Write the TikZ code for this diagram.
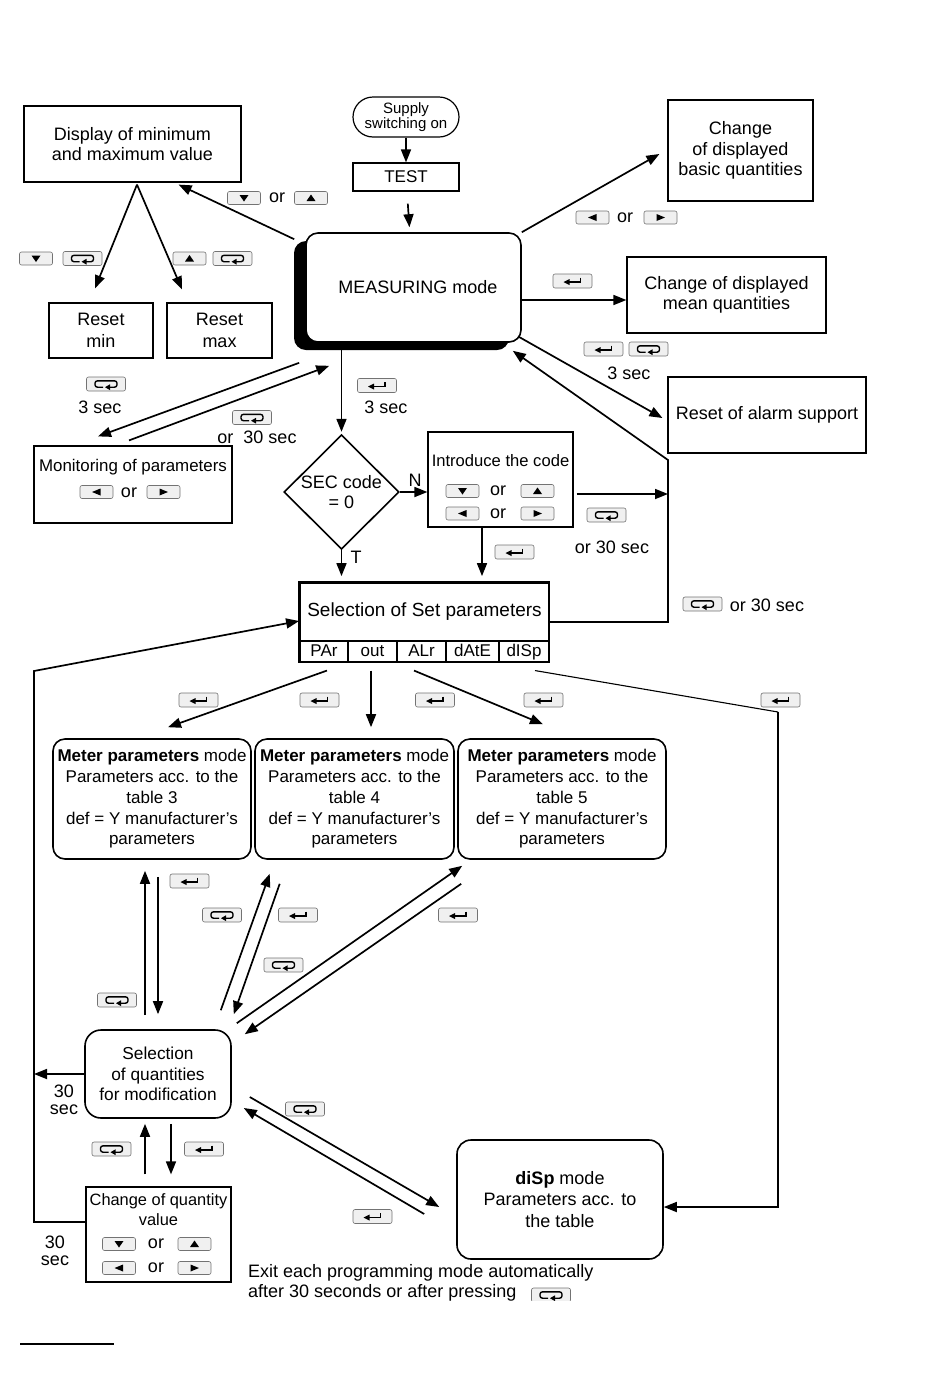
\documentclass[tikz,border=0pt]{standalone}
\usepackage{fontspec}
\setmainfont{Liberation Sans}
\usetikzlibrary{arrows.meta,shapes.geometric,shadows,calc}

\tikzset{
  keybox/.style={draw=black!55, line width=0.6pt, fill=black!6, rounded corners=2pt},
  pics/kdn/.style={code={
    \draw[keybox] (-16.5,-6.5) rectangle (16.5,6.5);
    \fill (-4.5,-3) -- (4.5,-3) -- (0,3.5) -- cycle;}},
  pics/kup/.style={code={
    \draw[keybox] (-16.5,-6.5) rectangle (16.5,6.5);
    \fill (-4.5,3) -- (4.5,3) -- (0,-3.5) -- cycle;}},
  pics/klt/.style={code={
    \draw[keybox] (-16.5,-6.5) rectangle (16.5,6.5);
    \fill (4,-3.5) -- (4,3.5) -- (-4.5,0) -- cycle;}},
  pics/krt/.style={code={
    \draw[keybox] (-16.5,-6.5) rectangle (16.5,6.5);
    \fill (-4,-3.5) -- (-4,3.5) -- (4.5,0) -- cycle;}},
  pics/kent/.style={code={
    \draw[keybox] (-19.5,-7) rectangle (19.5,7);
    \draw[line width=1.4pt] (8,-3.5) -- (8,1) -- (-4,1);
    \fill (-9,1) -- (-3,-2) -- (-3,4) -- cycle;}},
  pics/kesc/.style={code={
    \draw[keybox] (-19.5,-7) rectangle (19.5,7);
    \draw[line width=1.4pt, rounded corners=2.5pt] (-3,3.2) -- (-11,3.2) -- (-11,-3.2)
      -- (11,-3.2) -- (11,3.2) -- (3,3.2);
    \fill (-1,3.2) -- (4,0.3) -- (4,6.1) -- cycle;}}
}

\begin{document}
\begin{tikzpicture}[x=1pt, y=-1pt,
    every node/.style={inner sep=0pt, align=center, font=\fontsize{18}{20.5}\selectfont},
    box/.style={draw, line width=1.2pt},
    rbox/.style={draw, line width=1.6pt, rounded corners=12pt},
    meter/.style={rbox, minimum width=198, minimum height=120, font=\fontsize{17}{20.75}\selectfont},
    arr/.style={line width=1.7pt, -{Triangle[length=13pt,width=10pt]}},
    cell/.style={draw, line width=1.1pt, minimum height=21, text height=12.5, text depth=3.5,
      font=\fontsize{17}{18}\selectfont}]

\useasboundingbox (0,0) rectangle (950,1382);

% top row
\node[box, minimum width=217, minimum height=76] (dispmm) at (132.5,144) {Display of minimum\\and maximum value};
\node[box, rounded corners=20pt, minimum width=106, minimum height=40,
  font=\fontsize{15}{15.5}\selectfont] (supply) at (406,117) {Supply\\switching on};
\node[box, minimum width=106, minimum height=28, font=\fontsize{17}{20}\selectfont] (test) at (406,177) {TEST};
\node[rbox, fill=white, minimum width=215, minimum height=109,
  drop shadow={shadow xshift=-12pt, shadow yshift=-8pt, fill=black, opacity=1}] (meas) at (413.5,287.5) {\hspace{9pt}MEASURING mode};
\node[box, minimum width=145, minimum height=101] (chbasic) at (740.5,150.5) {Change\\of displayed\\basic quantities};
\node[box, minimum width=199, minimum height=76] (chmean) at (726.5,295) {Change of displayed\\mean quantities};
\node[box, minimum width=198, minimum height=76] (resalarm) at (767,415) {Reset of alarm support};
\node[box, minimum width=104, minimum height=55, font=\fontsize{18}{22}\selectfont] (resmin) at (101,330.5) {Reset\\min};
\node[box, minimum width=105, minimum height=55, font=\fontsize{18}{22}\selectfont] (resmax) at (219.5,330.5) {Reset\\max};

% monitoring
\node[box, minimum width=198, minimum height=77] (monit) at (133,484.5) {};
\node[font=\fontsize{16.9}{18}\selectfont] (monit-t) at (133,467) {Monitoring of parameters};
\pic at (96.5,492) {klt};
\node (monit-or) at (129,493) {or};
\pic at (163.5,492) {krt};

% security code
\node[draw, diamond, aspect=1, line width=1.6pt, minimum width=115, minimum height=114] (sec) at (341.5,492) {SEC code\\= 0};
\node[box, minimum width=145, minimum height=95] (intro) at (500.5,479.5) {};
\node[font=\fontsize{16.6}{18}\selectfont] (intro-t) at (500.5,461) {Introduce the code};
\pic at (462.5,491) {kdn};
\node (intro-or1) at (498,491) {or};
\pic at (537.5,491) {kup};
\pic at (462.5,513.5) {klt};
\node (intro-or2) at (498,514) {or};
\pic at (537.5,513.5) {krt};

% set parameters
\node[box, line width=1.8pt, minimum width=249, minimum height=58, font=\fontsize{19}{20}\selectfont] (sel) at (424.5,612) {Selection of Set parameters};
\foreach \nm/\lo/\hi [evaluate=\lo as \cx using (\lo+\hi)/2, evaluate=\hi as \cw using \hi-\lo]
    in {PAr/300/348, out/348/397, ALr/397/446, dAtE/446/499, dISp/499/549}
  \node[cell, minimum width=\cw] (cell-\nm) at (\cx,651.5) {\nm};
\draw[line width=1.8pt] (sel.north west) rectangle (cell-dISp.south east);

% meter modes
\node[meter] (m1) at (152,799) {\textbf{Meter parameters} mode\\Parameters acc. to the\\table 3\\def = Y manufacturer’s\\parameters};
\node[meter, minimum width=199] (m2) at (354.5,799) {\textbf{Meter parameters} mode\\Parameters acc. to the\\table 4\\def = Y manufacturer’s\\parameters};
\node[meter, minimum width=208] (m3) at (562,799) {\textbf{Meter parameters} mode\\Parameters acc. to the\\table 5\\def = Y manufacturer’s\\parameters};

% lower part
\node[rbox, rounded corners=16pt, minimum width=146, minimum height=88,
  font=\fontsize{17.3}{20.5}\selectfont] (selq) at (158,1074) {Selection\\of quantities\\for modification};
\node[box, minimum width=145, minimum height=95] (chq) at (158.5,1234.5) {};
\node[font=\fontsize{16.4}{20}\selectfont] (chq-t) at (158.5,1210) {Change of quantity\\value};
\pic at (119,1244) {kdn};
\node (chq-or1) at (156,1244) {or};
\pic at (194.5,1244) {kup};
\pic at (119,1268) {klt};
\node (chq-or2) at (156,1268) {or};
\pic at (194.5,1268) {krt};
\node[rbox, rounded corners=14pt, minimum width=206, minimum height=119,
  font=\fontsize{18}{21.5}\selectfont] (disp) at (560,1199.5) {\textbf{diSp} mode\\Parameters acc. to\\the table};

% footer
\begin{scope}
  \clip (240,1255) rectangle (620,1300.5);
  \node[anchor=west] (exit1) at (248,1273) {Exit each programming mode automatically};
  \node[anchor=west] (exit2) at (248,1293) {after 30 seconds or after pressing};
  \pic at (551,1295) {kesc};
\end{scope}
\draw[line width=1.5pt] (20,1344) -- (114,1344);

% top connectors
\draw[arr] (supply) -- (test);
\draw[arr, shorten <=12pt, shorten >=5pt] (test) -- (meas);
\draw[arr] ($(meas.north west)+(-11,7)$) -- ($(dispmm.south east)+(-63,2)$);
\draw[arr] ($(dispmm.south)+(4.5,2)$) -- ($(resmin.north)+(-6,-14)$);
\draw[arr] ($(dispmm.south)+(4.5,2)$) -- ($(resmax.north)+(-37.5,-13)$);
\draw[arr] (meas.north east) -- ($(chbasic.west)+(-8,3.5)$);
\draw[arr] (meas.east |- 0,300) -- (chmean.west |- 0,300);
\draw[arr] ($(meas.south east)+(-3,-6)$) -- ($(resalarm.west)+(-5,3)$);
\coordinate (rjoin) at (668,622);
\coordinate (rbend) at (668,460);
\draw[arr] (sel.east |- rjoin) -- (rjoin) -- (rbend) -- ($(meas.south east)+(-9,8)$);
\coordinate (introR) at ($(intro.east)+(3,14.5)$);
\draw[arr] (introR) -- (introR -| rjoin);

% measuring <-> monitoring
\draw[arr] ($(meas.south west)+(-6,20)$) -- ($(monit.north)+(-35,-9)$);
\draw[arr] ($(monit.north)+(-4,-5)$) -- ($(meas.south west)+(24,23)$);

% measuring -> security code -> set parameters
\draw[arr, shorten >=2pt] (meas.south -| sec.north) -- (sec.north);
\draw[arr] (sec.east) -- (sec.east -| intro.west);
\draw[arr, shorten >=6pt] (sec.south) -- (sec.south |- sel.north);
\coordinate (introD) at ($(intro.south)+(-18.5,0)$);
\draw[arr, shorten >=6pt] (introD) -- (introD |- sel.north);

% left loop
\coordinate (lbot) at (34,1222);
\coordinate (ltop) at (34,671);
\draw[arr] (chq.west |- lbot) -- (lbot) -- (ltop) -- ($(sel.west)+(0,9)$);
\draw[arr] (selq.west) -- (selq.west -| lbot);

% set parameters -> modes
\draw[arr] ($(cell-PAr.south)+(3,8)$) -- ($(m1.north)+(16,-11)$);
\draw[arr] ($(cell-out.south)+(-1.5,8)$) -- ($(m2.north)+(16.5,-11)$);
\draw[arr] ($(cell-ALr.south)+(-7.5,8)$) -- ($(m3.north)+(-19,-14)$);
\coordinate (dtop) at (778,712);
\coordinate (dbot) at (778,1207);
\draw[line width=1.1pt] ($(cell-dISp.south)+(11,8)$) -- (dtop);
\draw[arr] (dtop) -- (dbot) -- (dbot -| disp.east);

% modes <-> selection of quantities
\draw[arr] ($(selq.north)+(-13,-14)$) -- ($(m1.south)+(-7,11)$);
\draw[arr] ($(m1.south)+(6,17)$) -- ($(selq.north)+(0,-15)$);
\draw[arr] ($(selq.north east)+(-11,-19)$) -- ($(m2.south west)+(15.5,14)$);
\draw[arr] ($(m2.south west)+(25.5,24)$) -- ($(selq.north east)+(2,-15)$);
\draw[arr] ($(selq.north east)+(5,-6)$) -- ($(m3.south west)+(5,6)$);
\draw[arr] ($(m3.south west)+(4,24)$) -- ($(selq.north east)+(13,5)$);
\draw[arr] ($(selq.east)+(18,23)$) -- ($(disp.west)+(-17,7.5)$);
\draw[arr] ($(disp.west)+(-32,14.5)$) -- ($(selq.east)+(12,34)$);
\draw[arr] ($(chq.north)+(-13.5,-12)$) -- ($(selq.south)+(-13,5)$);
\draw[arr] ($(selq.south)+(13,5)$) -- ($(chq.north)+(12.5,-12)$);

% key labels
\pic at (244,198) {kdn};
\node (or-a) at (277,198) {or};
\pic at (311,198) {kup};
\pic at (36,258.5) {kdn};
\pic at (82.5,258.5) {kesc};
\pic at (189.5,258.5) {kup};
\pic at (232.5,258.5) {kesc};
\pic at (592.5,217.5) {klt};
\node (or-b) at (625,218) {or};
\pic at (660.5,217.5) {krt};
\pic at (572.5,281) {kent};
\pic at (603.5,349) {kent};
\pic at (648.5,349) {kesc};
\node (sec-a) at (629,373) {3 sec};
\pic at (106,384) {kesc};
\node (sec-b) at (100,407) {3 sec};
\pic at (252,417.5) {kesc};
\node (sec-c) at (257,437) {or\ \ 30 sec};
\pic at (377,385.5) {kent};
\node (sec-d) at (386,407) {3 sec};
\node (lbl-n) at (415,480) {N};
\node (lbl-t) at (356,557) {T};
\pic at (514.5,552) {kent};
\pic at (606.5,515) {kesc};
\node (sec-e) at (612,547) {or 30 sec};
\pic at (702.5,604) {kesc};
\node (sec-f) at (767,605) {or 30 sec};
\foreach \kx in {198.5,319.5,435,543.5,780.5}
  \pic at (\kx,700) {kent};
\pic at (189.5,881) {kent};
\pic at (117,1000) {kesc};
\pic at (222,915) {kesc};
\pic at (298,915) {kent};
\pic at (283.5,965) {kesc};
\pic at (458,915) {kent};
\node[font=\fontsize{18}{17}\selectfont] (sec-g) at (64,1100) {30\\sec};
\node[font=\fontsize{18}{17}\selectfont] (sec-h) at (55,1251) {30\\sec};
\pic at (305,1109) {kesc};
\pic at (372.5,1216.5) {kent};
\pic at (111.5,1149) {kesc};
\pic at (204,1149) {kent};
\end{tikzpicture}
\end{document}
